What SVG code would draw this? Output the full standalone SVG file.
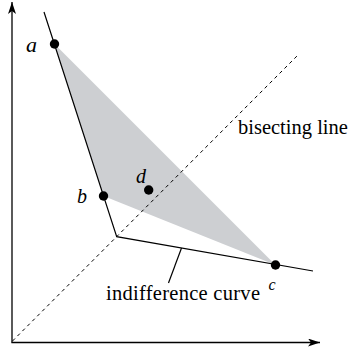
<svg xmlns="http://www.w3.org/2000/svg" width="350" height="349" viewBox="0 0 350 349">
<style>
.ln{stroke:#000;stroke-width:1.2;fill:none}
.ax{stroke:#000;stroke-width:1.3;fill:none}
.dash{stroke:#000;stroke-width:1;fill:none;stroke-dasharray:3.5 3.5}
.dot{fill:#000}
.lbl{font-family:"Liberation Serif","Times New Roman",serif;font-style:italic;fill:#000}
.txt{font-family:"Liberation Serif","Times New Roman",serif;font-size:20.5px;fill:#000}
</style>
<defs>
<marker id="arr" viewBox="0 0 12 8" refX="12" refY="4" markerWidth="12" markerHeight="8" markerUnits="userSpaceOnUse" orient="auto">
<path d="M0,0 L12,4 L0,8 L3,4 Z" fill="#000"/>
</marker>
</defs>
<g id="region">
<polygon points="54.5,44 103.5,196 275.5,265" fill="#cdcfd2"/>
</g>
<g id="connectors">
<line class="ax" x1="12" y1="342.5" x2="12" y2="2" marker-end="url(#arr)"/>
<line class="ax" x1="11.4" y1="342.5" x2="320" y2="342.5" marker-end="url(#arr)"/>
<line class="dash" x1="12.5" y1="341" x2="299" y2="54"/>
<polyline class="ln" points="44,12 116.7,236.7 313,271"/>
<line class="ln" x1="181.5" y1="248" x2="168.5" y2="283"/>
</g>
<g id="node-a">
<circle class="dot" cx="54.5" cy="44" r="4.7"/>
<text class="lbl" x="26" y="52" font-size="22">a</text>
</g>
<g id="node-b">
<circle class="dot" cx="103.5" cy="196" r="4.7"/>
<text class="lbl" x="77" y="203" font-size="20">b</text>
</g>
<g id="node-c">
<circle class="dot" cx="275.5" cy="265" r="4.7"/>
<text class="lbl" x="268.5" y="290" font-size="16">c</text>
</g>
<g id="node-d">
<circle class="dot" cx="148.7" cy="190" r="4.7"/>
<text class="lbl" x="136" y="183" font-size="20">d</text>
</g>
<g id="label-bisecting">
<text class="txt" x="238" y="134">bisecting line</text>
</g>
<g id="label-indifference">
<text class="txt" x="106" y="300" textLength="154">indifference curve</text>
</g>
</svg>
